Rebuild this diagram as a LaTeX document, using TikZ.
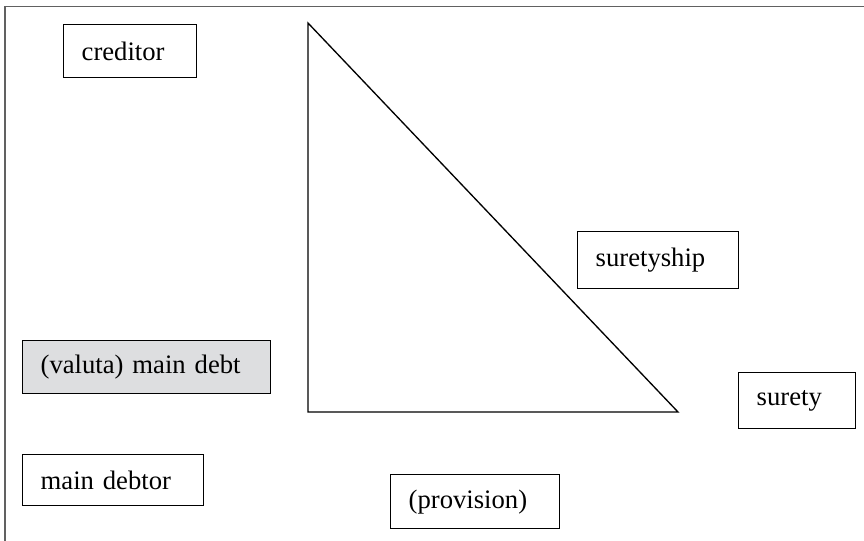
\documentclass[tikz,border=0pt]{standalone}
\usepackage{fontspec}
\setmainfont{Liberation Serif}
\definecolor{debtfill}{RGB}{221,222,224}
\begin{document}
\begin{tikzpicture}[x=0.75pt,y=-0.75pt,
  box/.style={draw=black,line width=1pt,minimum height=#1*0.75pt,anchor=north west,
    inner xsep=13.5pt,inner ysep=0pt,align=left,
    font=\fontsize{20}{24}\selectfont},
  box/.default=52,
  frame/.style={draw=black!62,line width=1.1pt}]
  \useasboundingbox (0,0) rectangle (864,540);
  % outer frame, running off the right and bottom edges
  \begin{scope}
    \clip (0,0) rectangle (864,540);
    \draw[frame] (5,6.5) rectangle (868,546);
  \end{scope}
  % labelled boxes
  \node[box=53,text width=133*0.75pt-27pt] (creditor) at (63,24) {creditor};
  \node[box=53,text width=248*0.75pt-27pt,fill=debtfill] (debt) at (22,340) {(valuta) main debt};
  \node[box=51,text width=181*0.75pt-27pt] (debtor) at (22,454) {main debtor};
  \node[box=54,text width=169*0.75pt-27pt] (provision) at (390,474) {(provision)};
  \node[box=57,text width=161*0.75pt-27pt] (suretyship) at (577,231) {suretyship};
  \node[box=56,text width=117*0.75pt-27pt] (surety) at (738,372) {surety};
  % right triangle
  \coordinate (apex) at (308,23);
  \coordinate (corner) at (308,412);
  \coordinate (tip) at (678,412);
  \draw[line width=1pt,line join=miter] (apex) -- (corner) -- (tip) -- cycle;
\end{tikzpicture}
\end{document}
